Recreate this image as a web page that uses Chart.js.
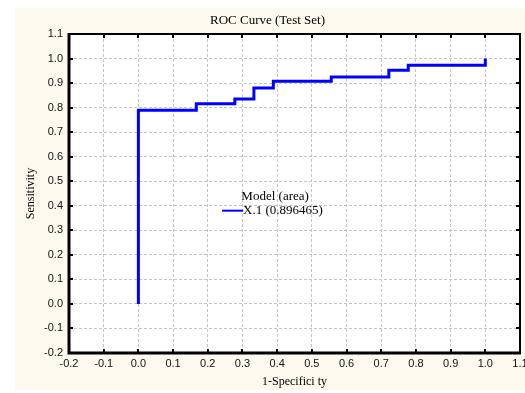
<!DOCTYPE html>
<html>
<head>
<meta charset="utf-8">
<script src="https://cdn.jsdelivr.net/npm/chart.js@4/dist/chart.umd.min.js"></script>
<style>
  html, body { margin: 0; padding: 0; background: #fff; }
  #wrap { width: 525px; height: 393px; }
</style>
</head>
<body>
<div id="wrap"><canvas id="rocChart" width="525" height="393"></canvas></div>
<script>
// ROC curve points (1-specificity, sensitivity)
const fpr_rates = [0, 0, 0.167, 0.278, 0.333, 0.389, 0.556, 0.722, 0.778, 1.0];
const tpr_rates = [0, 0.789, 0.816, 0.835, 0.880, 0.907, 0.925, 0.952, 0.973, 1.0];

const series_label = "X.1 (0.896465)";
const legend_title = "Model (area)";
const chart_title = "ROC Curve (Test Set)";
const x_title = "1-Specifici ty";
const y_title = "Sensitivity";

const axis_min = -0.2;
const axis_max = 1.1;
const axis_step = 0.1;

const roc_points = fpr_rates.map((x, i) => ({ x: x, y: tpr_rates[i] }));

function fmt(v) {
  return (Math.round(v * 10) / 10).toFixed(1);
}

// cream frame + white plot area
const framePlugin = {
  id: "frame",
  beforeDraw(chart) {
    const ctx = chart.ctx;
    const a = chart.chartArea;
    ctx.save();
    ctx.fillStyle = "#fdf9ee";
    ctx.fillRect(15, 8, 510, 382);
    ctx.fillStyle = "#ffffff";
    ctx.fillRect(a.left, a.top, a.right - a.left, a.bottom - a.top);
    ctx.restore();
  },
  afterDatasetsDraw(chart) {
    const ctx = chart.ctx;
    const a = chart.chartArea;
    const xs = chart.scales.x;
    const ys = chart.scales.y;
    ctx.save();
    ctx.strokeStyle = "#000";
    // inward tick marks
    ctx.lineWidth = 2;
    xs.ticks.forEach(t => {
      const px = Math.round(xs.getPixelForValue(t.value));
      ctx.beginPath();
      ctx.moveTo(px, a.bottom); ctx.lineTo(px, a.bottom - 4);
      ctx.moveTo(px, a.top); ctx.lineTo(px, a.top + 4);
      ctx.stroke();
    });
    ys.ticks.forEach(t => {
      const py = Math.round(ys.getPixelForValue(t.value));
      ctx.beginPath();
      ctx.moveTo(a.left, py); ctx.lineTo(a.left + 4, py);
      ctx.moveTo(a.right, py); ctx.lineTo(a.right - 4, py);
      ctx.stroke();
    });
    // border
    ctx.lineWidth = 2;
    ctx.beginPath();
    ctx.moveTo(a.left, a.top); ctx.lineTo(a.right, a.top); ctx.lineTo(a.right, a.bottom);
    ctx.stroke();
    ctx.lineWidth = 3;
    ctx.beginPath();
    ctx.moveTo(a.left, a.top - 1); ctx.lineTo(a.left, a.bottom); ctx.lineTo(a.right + 1, a.bottom);
    ctx.stroke();

    // legend in the middle of the plot
    const lx = a.left + 0.457 * (a.right - a.left);
    const ly = a.top + 0.51 * (a.bottom - a.top);
    ctx.fillStyle = "#000";
    ctx.font = "13px 'Liberation Serif'";
    ctx.textAlign = "center";
    ctx.textBaseline = "middle";
    ctx.fillText(legend_title, lx, ly);
    ctx.textAlign = "left";
    ctx.fillText(chart.data.datasets[0].label, lx - 32, ly + 14);
    ctx.strokeStyle = chart.data.datasets[0].borderColor;
    ctx.lineWidth = 2;
    ctx.beginPath();
    ctx.moveTo(lx - 53, ly + 14); ctx.lineTo(lx - 32, ly + 14);
    ctx.stroke();
    ctx.restore();
  }
};

const config_roc = {
  type: "line",
  data: {
    datasets: [
      {
        label: series_label,
        data: roc_points,
        borderColor: "#0000ff",
        backgroundColor: "#0000ff",
        borderWidth: 3,
        pointRadius: 0,
        fill: false,
        stepped: "before",
      },
    ],
  },
  plugins: [framePlugin],
  options: {
    responsive: false,
    animation: false,
    layout: { padding: { left: 15, right: 5, top: 8, bottom: 0 } },
    plugins: {
      legend: { display: false },
      tooltip: { enabled: false },
      title: {
        display: true,
        text: chart_title,
        color: "#000",
        font: { family: "'Liberation Serif'", size: 13, weight: "normal" },
        padding: { top: 5, bottom: 5.4 },
      },
    },
    scales: {
      x: {
        type: "linear",
        min: axis_min,
        max: axis_max,
        ticks: {
          stepSize: axis_step,
          color: "#111",
          padding: 4,
          maxRotation: 0,
          autoSkip: false,
          font: { family: "'Liberation Sans'", size: 11 },
          callback: v => fmt(v),
        },
        grid: { color: "#c4c4c4", lineWidth: 1, drawTicks: false },
        border: { display: false, dash: [3, 2] },
        title: {
          display: true,
          text: x_title,
          color: "#000",
          font: { family: "'Liberation Serif'", size: 12 },
          padding: { top: 0, bottom: 4 },
        },
        afterFit(scale) {
          scale.height = 40;
          scale.paddingLeft = 0;
          scale.paddingRight = 0;
        },
      },
      y: {
        type: "linear",
        min: axis_min,
        max: axis_max,
        ticks: {
          stepSize: axis_step,
          color: "#111",
          padding: 6,
          autoSkip: false,
          font: { family: "'Liberation Sans'", size: 11 },
          callback: v => fmt(v),
        },
        grid: { color: "#c4c4c4", lineWidth: 1, drawTicks: false },
        border: { display: false, dash: [3, 2] },
        title: {
          display: true,
          text: y_title,
          color: "#000",
          font: { family: "'Liberation Serif'", size: 12 },
          padding: { top: 9, bottom: 0 },
        },
        afterFit(scale) {
          scale.width = 54;
          scale.paddingTop = 0;
          scale.paddingBottom = 0;
        },
      },
    },
  },
};

const roc_chart = new Chart(document.getElementById("rocChart"), config_roc);
</script>
</body>
</html>
